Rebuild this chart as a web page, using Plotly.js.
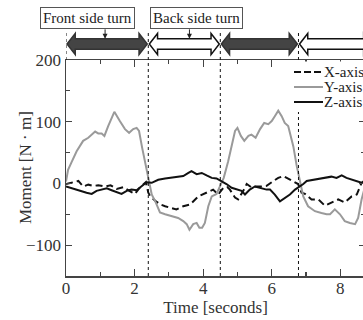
<!DOCTYPE html>
<html><head><meta charset="utf-8">
<script src="https://cdn.plot.ly/plotly-3.0.1.min.js"></script>
<style>html,body{margin:0;padding:0;overflow:hidden;background:#fff;width:363px;height:320px}#chart{width:365px;height:320px}</style>
</head><body><div id="chart"></div>
<script>
// ---- data ----
var tX = [0, 0.2, 0.36, 0.5, 0.65, 0.8, 0.94, 1.14, 1.3, 1.48, 1.67, 1.91, 2.01, 2.16, 2.33, 2.4, 2.45, 2.6, 2.75, 2.89, 3.08, 3.22, 3.42, 3.62, 3.86, 4.1, 4.29, 4.44, 4.59, 4.7, 4.78, 4.93, 5.02, 5.17, 5.27, 5.4, 5.51, 5.7, 5.85, 6.05, 6.19, 6.34, 6.48, 6.63, 6.77, 6.87, 6.97, 7.16, 7.36, 7.55, 7.74, 7.94, 8.13, 8.33, 8.48, 8.62, 8.72];
var xAxisMoment = [-1, 2, 4, -5, -2, -4, -3, -5, -3, -9, -6, -14, -17, -6, 2, -15, -20, -28, -34, -37, -40, -42, -37, -34, -21, -15, -10, -18, -7, -6, -10, -23, -26, -12, -1, -6, -5, -5, -4, 4, 9, 12, 8, 4, -1, -15, -17, -26, -26, -36, -31, -26, -31, -21, -18, 1, 5];

var tY = [0, 0.06, 0.15, 0.31, 0.5, 0.65, 0.85, 0.94, 1.04, 1.12, 1.23, 1.41, 1.57, 1.72, 1.84, 1.96, 2.06, 2.13, 2.22, 2.32, 2.42, 2.5, 2.62, 2.74, 2.89, 3.08, 3.27, 3.42, 3.52, 3.6, 3.71, 3.81, 3.89, 3.97, 4.05, 4.15, 4.25, 4.39, 4.49, 4.6, 4.73, 4.83, 4.93, 5.0, 5.1, 5.2, 5.32, 5.41, 5.53, 5.66, 5.78, 5.9, 6.0, 6.09, 6.19, 6.29, 6.38, 6.48, 6.63, 6.73, 6.82, 6.92, 7.06, 7.26, 7.45, 7.6, 7.7, 7.84, 7.99, 8.13, 8.28, 8.43, 8.52, 8.62, 8.72];
var yAxisMoment = [3, 22, 33, 52, 69, 74, 84, 81, 81, 77, 93, 116, 101, 88, 82, 88, 90, 85, 58, 30, 6, -18, -31, -47, -50, -53, -56, -61, -66, -75, -66, -64, -72, -72, -64, -37, -21, -17, -4, 9, 36, 60, 85, 90, 77, 69, 77, 79, 74, 88, 98, 96, 101, 109, 118, 109, 98, 93, 60, 28, 2, -21, -37, -45, -48, -50, -50, -42, -50, -61, -64, -66, -56, -26, -5];

var tZ = [0, 0.21, 0.41, 0.6, 0.75, 0.89, 1.04, 1.19, 1.33, 1.48, 1.62, 1.77, 1.91, 2.06, 2.2, 2.35, 2.5, 2.69, 2.89, 3.03, 3.22, 3.42, 3.57, 3.66, 3.81, 3.96, 4.1, 4.25, 4.39, 4.52, 4.68, 4.83, 4.98, 5.12, 5.22, 5.36, 5.51, 5.66, 5.85, 5.95, 6.09, 6.24, 6.38, 6.53, 6.68, 6.82, 6.92, 7.02, 7.21, 7.41, 7.6, 7.74, 7.89, 8.04, 8.18, 8.33, 8.48, 8.62, 8.72];
var zAxisMoment = [-5, -9, -12, -15, -17, -12, -10, -8, -11, -14, -17, -12, -10, -11, -5, 2, 1, 6, 8, 9, 11, 12, 17, 20, 15, 17, 13, 9, 8, 4, -1, -7, -9, -12, -18, -10, -5, -7, -10, -10, -18, -29, -23, -18, -10, -5, -1, 4, 6, 8, 9, 11, 9, 13, 9, 6, 4, 1, 0];

var seriesNames = ["X-axis", "Y-axis", "Z-axis"];
var phaseBounds = [0, 2.4, 4.5, 6.78, 8.95];
var phaseKinds = ["front", "back", "front", "back"];
var phaseLabels = ["Front side turn", "Back side turn"];
var labelArrowX = [1.14, 3.6];
var xTickVals = [0, 2, 4, 6, 8];
var yTickVals = [-100, 0, 100, 200];
var xTitle = "Time [seconds]";
var yTitle = "Moment [N · m]";

// ---- styling ----
var FONT = "Liberation Serif";
var BLACK = "#111";
var GRAY = "#9a9a9a";
var AX = "#444";

var traces = [
  {x: tX, y: xAxisMoment, name: seriesNames[0], mode: "lines", line: {color: BLACK, width: 2, dash: "7px,4px"}},
  {x: tY, y: yAxisMoment, name: seriesNames[1], mode: "lines", line: {color: GRAY, width: 2}},
  {x: tZ, y: zAxisMoment, name: seriesNames[2], mode: "lines", line: {color: BLACK, width: 2}}
];

var shapes = [];
phaseBounds.slice(0, 4).forEach(function (b) {
  shapes.push({type: "line", xref: "x", yref: "paper", x0: b, x1: b, y0: b === 0 ? 1 : 0, y1: 1.134,
    line: {color: BLACK, width: 1, dash: "dot"}, layer: "above"});
});
var yc = 1.074, S = 0.024, H = 0.049, hx = 0.24, gap = 0.03;
for (var i = 0; i < 4; i++) {
  var a = phaseBounds[i] + gap, b = phaseBounds[i + 1] - gap;
  var p = "M" + a + "," + yc + " L" + (a + hx) + "," + (yc + H) + " L" + (a + hx) + "," + (yc + S) +
    " L" + (b - hx) + "," + (yc + S) + " L" + (b - hx) + "," + (yc + H) + " L" + b + "," + yc +
    " L" + (b - hx) + "," + (yc - H) + " L" + (b - hx) + "," + (yc - S) + " L" + (a + hx) + "," + (yc - S) +
    " L" + (a + hx) + "," + (yc - H) + " Z";
  var front = phaseKinds[i] === "front";
  shapes.push({type: "path", xref: "x", yref: "paper", path: p,
    fillcolor: front ? "#444" : "#fff", line: {color: front ? "#333" : BLACK, width: 1.5}, layer: "above"});
}
function px2x(p) { return (p - 66) / 299; }
function py2y(p) { return (276 - p) / 216; }
shapes.push({type: "rect", xref: "paper", yref: "paper", x0: px2x(290), x1: 1.02, y0: py2y(112), y1: py2y(61.5),
  fillcolor: "#fff", line: {width: 0}, layer: "above"});
var legY = [72, 87, 102];
var legStyles = [traces[0].line, traces[1].line, traces[2].line];
var annotations = [];
for (var k = 0; k < 3; k++) {
  shapes.push({type: "line", xref: "paper", yref: "paper", x0: px2x(294), x1: px2x(323), y0: py2y(legY[k]), y1: py2y(legY[k]),
    line: {color: legStyles[k].color, width: 2, dash: k === 0 ? "7px,3px" : "solid"}, layer: "above"});
  annotations.push({xref: "paper", yref: "paper", x: px2x(323), y: py2y(legY[k]), xanchor: "left", yanchor: "middle",
    text: seriesNames[k], showarrow: false, borderpad: 0, font: {family: FONT, size: 15, color: "#222"}});
}
annotations.push({xref: "paper", yref: "paper", x: px2x(40), y: py2y(18), xanchor: "left", yanchor: "middle",
  text: phaseLabels[0], showarrow: false, bordercolor: "#555", borderwidth: 1, borderpad: 2, bgcolor: "#fff",
  font: {family: FONT, size: 15, color: "#222"}});
annotations.push({xref: "paper", yref: "paper", x: px2x(150), y: py2y(18), xanchor: "left", yanchor: "middle",
  text: phaseLabels[1], showarrow: false, bordercolor: "#555", borderwidth: 1, borderpad: 2, bgcolor: "#fff",
  font: {family: FONT, size: 15, color: "#222"}});
for (var m = 0; m < 2; m++) {
  annotations.push({xref: "x", yref: "paper", x: labelArrowX[m], y: yc + S, text: "", showarrow: true,
    ax: 0, ay: -11, arrowhead: 2, arrowsize: 1, arrowwidth: 1, arrowcolor: "#222", standoff: 0});
}
// y-axis title placed as rotated text
annotations.push({xref: "paper", yref: "paper", x: px2x(25), y: py2y(168), xanchor: "center", yanchor: "middle",
  text: yTitle, textangle: -90, showarrow: false, font: {family: FONT, size: 17, color: "#333"}});

var layout = {
  width: 365, height: 320,
  margin: {l: 66, r: 0, t: 60, b: 44},
  paper_bgcolor: "#fff", plot_bgcolor: "#fff",
  showlegend: false,
  font: {family: FONT, size: 17, color: "#333"},
  xaxis: {range: [0, 8.72], tickvals: xTickVals, ticks: "inside", ticklen: 7, tickwidth: 1.2, tickcolor: AX,
    minor: {dtick: 1, ticks: "inside", ticklen: 4, tickcolor: AX, tickwidth: 1.2},
    showline: true, linecolor: AX, linewidth: 1.5, mirror: "allticks", showgrid: false, zeroline: false,
    ticklabelstandoff: -4,
    title: {text: xTitle, font: {family: FONT, size: 17, color: "#333"}, standoff: 0},
    tickfont: {family: FONT, size: 17, color: "#333"}},
  yaxis: {range: [-150, 200], tickvals: yTickVals, ticks: "inside", ticklen: 6, tickwidth: 1.2, tickcolor: AX,
    minor: {dtick: 50, ticks: "inside", ticklen: 4, tickcolor: AX, tickwidth: 1.2},
    showline: true, linecolor: AX, linewidth: 1.5, mirror: "allticks", showgrid: false, zeroline: false,
    tickfont: {family: FONT, size: 17, color: "#333"}},
  shapes: shapes,
  annotations: annotations
};

Plotly.newPlot("chart", traces, layout, {displayModeBar: false, staticPlot: true});
</script>
</body></html>
